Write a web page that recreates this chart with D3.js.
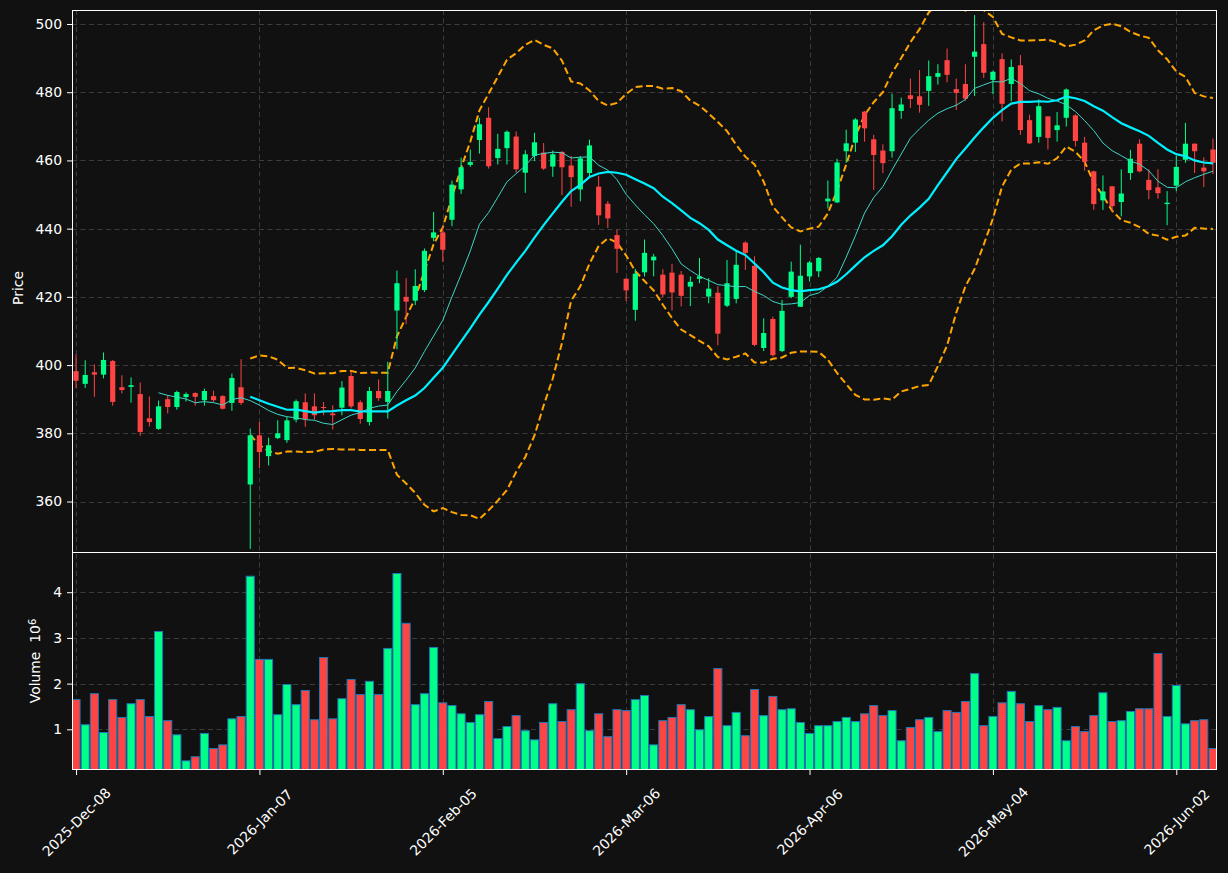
<!DOCTYPE html>
<html><head><meta charset="utf-8">
<script src="https://cdn.jsdelivr.net/npm/d3@7"></script>
<style>html,body{margin:0;padding:0;background:#111111;} svg{display:block;}</style>
</head><body>
<svg id="c" width="1228" height="873"></svg>
<script>
// ---- data ----
const opens  = [398.2,394.5,397.9,397.2,401.2,393.5,393.6,391.5,384.4,381.3,390.0,387.7,390.6,391.8,389.7,390.9,390.9,388.9,393.5,365.0,
379.4,373.3,378.6,378.0,384.0,389.1,387.9,387.7,385.8,387.5,396.8,389.1,383.3,392.4,389.2,416.0,420.0,418.9,422.0,437.3,
438.9,442.6,451.5,458.7,466.0,472.5,460.7,463.6,467.0,456.4,461.3,462.3,458.2,462.5,458.5,451.5,456.3,452.3,447.3,438.1,
425.3,416.2,427.2,430.7,426.5,427.1,426.5,423.0,425.3,420.1,421.2,417.4,419.4,435.9,429.1,405.0,413.5,404.1,420.0,417.1,
426.0,427.5,448.0,447.7,462.7,465.2,474.3,466.2,462.9,462.7,474.5,479.1,478.8,480.4,484.5,489.4,480.9,482.4,490.4,494.1,
483.6,489.7,482.4,487.9,471.8,466.9,472.9,468.9,472.5,473.2,465.2,456.8,448.3,452.4,447.8,456.3,464.9,454.3,452.1,447.2,
452.6,460.2,464.9,457.9,463.2];
const highs  = [403.1,401.4,400.2,403.7,401.5,397.0,396.4,394.9,390.8,389.6,391.2,392.5,392.0,392.0,393.1,392.5,391.2,397.5,401.7,381.4,
383.3,378.7,383.8,384.8,389.9,391.7,391.7,389.2,388.2,395.3,398.2,389.7,393.6,395.8,401.0,427.7,425.5,428.1,434.2,444.9,
440.7,454.1,460.8,463.2,472.5,475.6,467.8,468.8,468.5,463.0,468.1,465.1,462.9,462.7,461.3,461.3,466.1,455.5,448.1,439.7,
425.5,428.2,436.8,432.6,428.1,429.7,427.6,426.0,431.4,425.5,423.1,430.8,433.3,436.3,431.9,413.7,414.2,419.1,430.3,435.3,
430.5,431.7,454.1,460.5,469.0,472.4,474.5,467.5,464.7,479.6,478.4,484.0,486.5,489.3,488.2,492.8,484.0,488.2,502.6,500.5,
486.3,491.4,489.6,490.9,473.4,477.9,473.0,474.2,481.1,473.5,466.9,457.0,455.6,452.5,457.4,463.1,466.2,457.4,457.4,451.0,
461.3,471.0,465.0,460.9,466.4];
const lows   = [393.3,393.3,390.7,396.1,388.1,391.7,389.0,379.3,382.0,381.0,385.8,386.9,389.3,388.1,388.1,389.2,387.0,386.6,388.3,346.1,
369.8,370.6,378.3,377.2,383.2,381.9,384.0,385.3,381.1,385.3,387.3,382.8,382.3,389.5,384.3,404.6,412.0,417.6,421.4,436.3,
430.2,440.7,450.2,458.1,462.0,457.6,458.8,458.8,456.4,450.5,459.8,457.2,455.2,449.8,446.4,448.0,455.4,441.1,440.2,427.0,
418.8,413.0,426.0,426.0,419.9,416.0,417.2,417.3,424.0,418.1,405.8,417.0,418.1,427.9,405.5,404.1,402.5,403.8,419.6,417.1,
424.5,425.8,445.9,447.5,459.3,462.5,465.5,451.4,456.3,460.8,472.2,475.4,474.0,476.0,482.2,482.9,474.8,477.5,478.9,484.2,
479.4,471.4,477.3,467.5,464.8,465.2,463.2,465.5,469.9,464.1,457.0,445.5,445.5,445.0,443.6,454.3,456.5,448.6,448.8,441.0,
451.0,459.3,456.3,452.2,456.0];
const closes = [395.4,397.1,397.2,401.5,389.2,392.7,394.1,380.4,383.3,387.9,387.7,392.1,391.5,390.7,392.4,389.7,387.2,396.2,388.9,379.4,
374.5,376.5,380.0,383.8,389.4,384.2,385.3,387.4,385.3,393.4,387.9,384.2,392.4,390.3,392.4,424.0,418.6,423.2,433.5,438.9,
433.8,452.9,458.0,459.5,470.6,458.3,463.4,468.4,457.4,461.8,465.3,457.6,461.8,458.0,455.1,460.6,464.4,443.9,443.0,434.1,
421.9,426.8,432.9,431.8,420.7,421.3,420.3,424.4,426.0,422.4,409.2,424.0,429.4,432.9,405.9,409.4,402.9,415.9,427.4,426.2,
430.1,431.4,448.8,459.4,465.0,472.0,469.4,461.6,459.2,475.3,476.4,478.0,476.3,484.7,485.6,485.1,479.8,478.1,491.9,485.7,
486.0,476.6,487.4,468.9,465.0,475.9,466.6,470.3,480.8,465.7,459.6,447.2,450.9,446.6,450.3,460.5,456.8,451.3,450.4,447.6,
458.1,464.9,462.7,456.8,459.3];
const volumes = [1.65,1.10,1.78,0.93,1.65,1.26,1.56,1.65,1.28,3.14,1.19,0.88,0.31,0.40,0.91,0.58,0.66,1.23,1.28,4.35,
2.53,2.53,1.32,1.98,1.54,1.85,1.21,2.57,1.23,1.67,2.09,1.76,2.05,1.76,2.77,4.41,3.32,1.54,1.78,2.79,
1.58,1.52,1.34,1.15,1.32,1.61,0.80,1.06,1.30,0.97,0.77,1.15,1.56,1.17,1.43,2.00,0.97,1.34,0.84,1.43,
1.41,1.65,1.74,0.66,1.19,1.26,1.54,1.43,0.99,1.28,2.33,1.08,1.37,0.86,1.87,1.30,1.72,1.43,1.45,1.15,
0.91,1.08,1.08,1.17,1.26,1.17,1.34,1.52,1.30,1.41,0.75,1.04,1.21,1.26,0.95,1.41,1.37,1.61,2.22,1.08,
1.28,1.58,1.83,1.56,1.17,1.52,1.43,1.48,0.75,1.06,0.95,1.30,1.80,1.17,1.19,1.39,1.45,1.45,2.66,1.28,
1.96,1.12,1.19,1.21,0.58];
const xTickIndex  = [0,20,40,60,80,100,120];
const xTickLabels = ["2025-Dec-08","2026-Jan-07","2026-Feb-05","2026-Mar-06","2026-Apr-06","2026-May-04","2026-Jun-02"];
const priceTicks  = [360,380,400,420,440,460,480,500];
const volumeTicks = [1,2,3,4];

// ---- layout ----
const L=72, R=1217, T=10, MID=552, B=770;
const UP="#00ff88", DOWN="#ff4444", BG="#111111", FG="#ffffff";
const FONT="'DejaVu Sans', sans-serif";
const n = closes.length;
const idx = d3.range(n);

const x  = d3.scaleLinear().domain([-0.44, n-1+0.44]).range([L,R]);
const y  = d3.scaleLinear().domain([345.2, 504.1]).range([MID,T]);
const yv = d3.scaleLinear().domain([0.11, 4.88]).range([B,MID]);
const step = x(1)-x(0);

// rolling indicators derived from the closes
function sma(a,w){ return a.map((_,i)=> i<w-1 ? null : d3.mean(a.slice(i-w+1,i+1))); }
function sdev(a,w){ return a.map((_,i)=> i<w-1 ? null : d3.deviation(a.slice(i-w+1,i+1))); }
const ma10 = sma(closes,10), ma20 = sma(closes,20), sd20 = sdev(closes,20);
const bbUp = ma20.map((m,i)=> m==null?null:m+2*sd20[i]);
const bbLo = ma20.map((m,i)=> m==null?null:m-2*sd20[i]);

const svg = d3.select("#c");
svg.append("rect").attr("width",1228).attr("height",873).attr("fill",BG);

const defs = svg.append("defs");
defs.append("clipPath").attr("id","cp").append("rect").attr("x",L).attr("y",T).attr("width",R-L).attr("height",MID-T);
defs.append("clipPath").attr("id","cv").append("rect").attr("x",L).attr("y",MID).attr("width",R-L).attr("height",B-MID);

// ---- grids ----
const grid = svg.append("g").attr("stroke","#3c3c3c").attr("stroke-width",1).attr("stroke-dasharray","5,3.5");
priceTicks.forEach(v=> grid.append("line").attr("x1",L).attr("x2",R).attr("y1",Math.round(y(v))+0.5).attr("y2",Math.round(y(v))+0.5));
volumeTicks.forEach(v=> grid.append("line").attr("x1",L).attr("x2",R).attr("y1",Math.round(yv(v))+0.5).attr("y2",Math.round(yv(v))+0.5));
xTickIndex.forEach(i=> grid.append("line").attr("x1",Math.round(x(i))+0.5).attr("x2",Math.round(x(i))+0.5).attr("y1",T).attr("y2",B));

// ---- price panel ----
const gp = svg.append("g").attr("clip-path","url(#cp)");
const line = d3.line().defined(d=>d[1]!=null).x(d=>x(d[0])).y(d=>y(d[1]));
const bbStyle = g=>g.attr("fill","none").attr("stroke","#ffa500").attr("stroke-width",2).attr("stroke-dasharray","7,3.5");
gp.append("path").datum(idx.map(i=>[i,bbUp[i]])).attr("d",line).call(bbStyle);
gp.append("path").datum(idx.map(i=>[i,bbLo[i]])).attr("d",line).call(bbStyle);

const cw = 5.2;
const candles = gp.append("g").selectAll("g").data(idx).join("g")
  .attr("fill",i=> closes[i]>=opens[i]?UP:DOWN).attr("stroke",i=> closes[i]>=opens[i]?UP:DOWN);
candles.append("line").attr("x1",i=>x(i)).attr("x2",i=>x(i)).attr("y1",i=>y(highs[i])).attr("y2",i=>y(lows[i])).attr("stroke-width",1);
candles.append("rect").attr("x",i=>x(i)-cw/2).attr("width",cw)
  .attr("y",i=>y(Math.max(opens[i],closes[i])))
  .attr("height",i=>Math.max(1,Math.abs(y(opens[i])-y(closes[i])))).attr("stroke","none");

gp.append("path").datum(idx.map(i=>[i,ma10[i]])).attr("d",line).attr("fill","none").attr("stroke","#3fd6c6").attr("stroke-width",1);
gp.append("path").datum(idx.map(i=>[i,ma20[i]])).attr("d",line).attr("fill","none").attr("stroke","#00f0ff").attr("stroke-width",2.2);

// ---- volume panel ----
const gv = svg.append("g").attr("clip-path","url(#cv)");
const bw = step*0.88;
gv.selectAll("rect").data(idx).join("rect")
  .attr("x",i=>x(i)-bw/2).attr("width",bw)
  .attr("y",i=>yv(volumes[i])).attr("height",i=>B-yv(volumes[i])+2)
  .attr("fill",i=> closes[i]>=opens[i]?UP:DOWN)
  .attr("stroke","#1f77b4").attr("stroke-width",1);

// ---- axes ----
function styleAxis(g){
  g.selectAll(".domain").remove();
  g.selectAll("line").attr("stroke",FG);
  g.selectAll("text").attr("fill",FG).style("font-family",FONT).style("font-size","13.9px");
}
svg.append("g").attr("transform",`translate(${L},0)`)
  .call(d3.axisLeft(y).tickValues(priceTicks).tickSize(5).tickPadding(5).tickFormat(d3.format("d"))).call(styleAxis);
svg.append("g").attr("transform",`translate(${L},0)`)
  .call(d3.axisLeft(yv).tickValues(volumeTicks).tickSize(5).tickPadding(5).tickFormat(d3.format("d"))).call(styleAxis);

const xa = svg.append("g").attr("transform",`translate(0,${B})`)
  .call(d3.axisBottom(x).tickValues(xTickIndex).tickSize(5).tickFormat((d,k)=>xTickLabels[k])).call(styleAxis);
xa.selectAll("text").attr("text-anchor","middle").attr("y",null).attr("dy","0.35em")
  .attr("transform","translate(0,52) rotate(-45)");

// spines
const sp = svg.append("g").attr("fill","none").attr("stroke",FG).attr("stroke-width",1);
sp.append("rect").attr("x",L+0.5).attr("y",T+0.5).attr("width",R-L-1).attr("height",MID-T);
sp.append("rect").attr("x",L+0.5).attr("y",MID+0.5).attr("width",R-L-1).attr("height",B-MID-1);

// axis labels
svg.append("text").attr("transform",`translate(23,288) rotate(-90)`).attr("text-anchor","middle")
  .attr("fill",FG).style("font-family",FONT).style("font-size","13.9px").text("Price");
const vl = svg.append("text").attr("transform",`translate(40,${(MID+B)/2}) rotate(-90)`).attr("text-anchor","middle")
  .attr("fill",FG).style("font-family",FONT).style("font-size","13.9px");
vl.append("tspan").attr("xml:space","preserve").text("Volume\u00a0\u00a010");
vl.append("tspan").attr("dy","-0.45em").style("font-size","10px").text("6");
</script>
</body></html>
